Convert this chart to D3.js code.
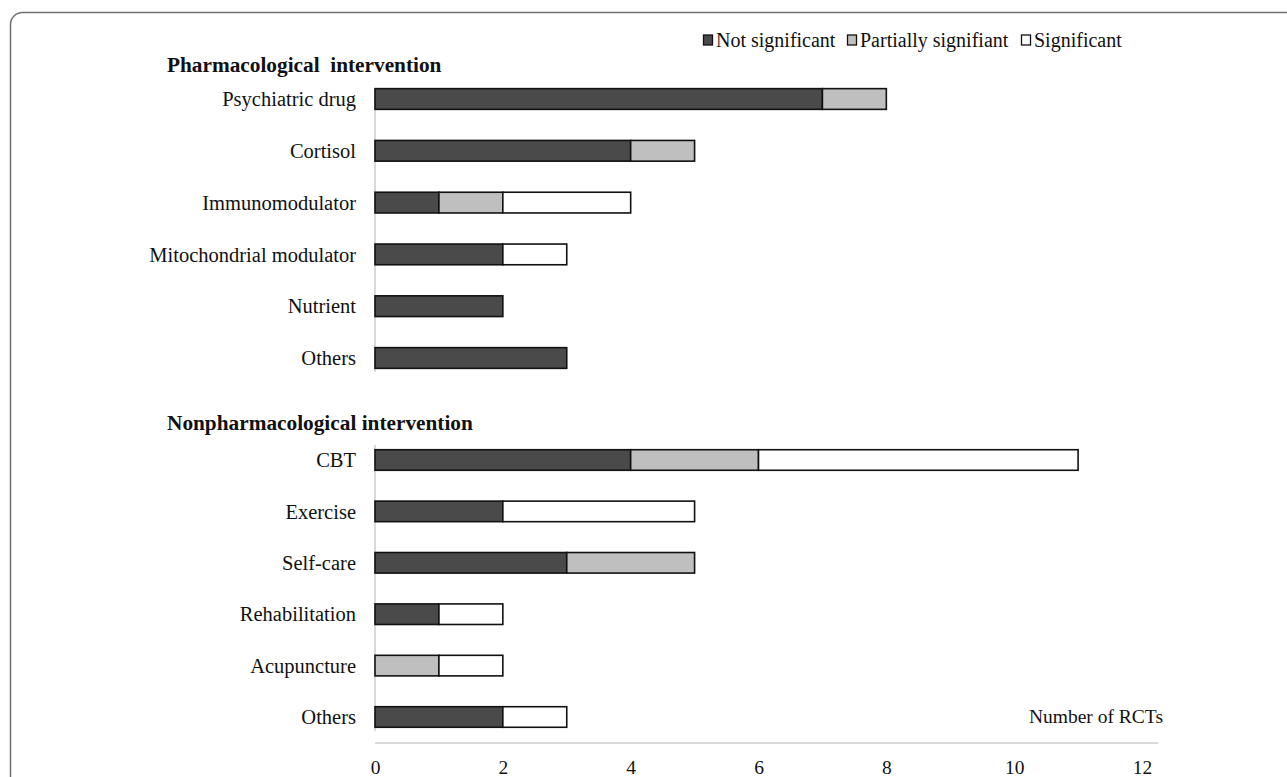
<!DOCTYPE html>
<html>
<head>
<meta charset="utf-8">
<script src="https://cdn.jsdelivr.net/npm/d3@7"></script>
<style>
  body { margin: 0; background: #fff; }
  text { font-family: "Liberation Serif", "Times New Roman", serif; }
</style>
</head>
<body>
<div id="container"></div>
<script>
/* DATA */
const series = ["Not significant", "Partially signifiant", "Significant"];
const pharmaCategories = ["Psychiatric drug", "Cortisol", "Immunomodulator", "Mitochondrial modulator", "Nutrient", "Others"];
const pharmaNotSig = [7, 4, 1, 2, 2, 3];
const pharmaPartial = [1, 1, 1, 0, 0, 0];
const pharmaSig = [0, 0, 2, 1, 0, 0];

const nonCategories = ["CBT", "Exercise", "Self-care", "Rehabilitation", "Acupuncture", "Others"];
const nonNotSig = [4, 2, 3, 1, 0, 2];
const nonPartial = [2, 0, 2, 0, 1, 0];
const nonSig = [5, 3, 0, 1, 1, 1];

const xTicks = [0, 2, 4, 6, 8, 10, 12];

/* CONSTANTS */
const width = 1287;
const height = 777;
const colors = ["#4a4a4a", "#bfbfbf", "#ffffff"];

const svg = d3.select("#container")
    .append("svg")
    .attr("width", width)
    .attr("height", height);

// frame (cut off on right and bottom)
svg.append("rect")
    .attr("x", 10.5).attr("y", 12.5)
    .attr("width", 1400).attr("height", 900)
    .attr("rx", 12)
    .attr("fill", "none")
    .attr("stroke", "#6e6e6e")
    .attr("stroke-width", 1.5);

const xScale = d3.scaleLinear()
    .domain([0, 12])
    .range([375, 1142]);

function panel(title, titleY, cats, a, b, c, range, lineTop) {
    const rows = cats.map((name, i) => ({ name, vals: [a[i], b[i], c[i]] }));
    const stack = d3.stack().keys([0, 1, 2]).value((d, k) => d.vals[k])(rows);

    const yScale = d3.scaleBand()
        .domain(d3.range(cats.length))
        .range(range)
        .paddingInner(0.6)
        .paddingOuter(0.3);

    svg.append("text")
        .attr("x", 167).attr("y", titleY)
        .attr("font-size", 21.3).attr("font-weight", "bold")
        .attr("fill", "#111")
        .style("white-space", "pre")
        .text(title);

    // vertical category axis line
    svg.append("line")
        .attr("x1", xScale(0)).attr("x2", xScale(0))
        .attr("y1", lineTop).attr("y2", range[1] - 12)
        .attr("stroke", "#d9d9d9").attr("stroke-width", 2);

    svg.append("g").selectAll("g")
        .data(stack)
        .join("g")
        .attr("fill", (d, i) => colors[i])
        .selectAll("rect")
        .data(d => d.map((v, i) => ({ v, i })).filter(e => e.v[1] > e.v[0]))
        .join("rect")
        .attr("x", e => xScale(e.v[0]))
        .attr("width", e => xScale(e.v[1]) - xScale(e.v[0]))
        .attr("y", e => yScale(e.i))
        .attr("height", yScale.bandwidth())
        .attr("stroke", "#111")
        .attr("stroke-width", 1.6);

    svg.append("g").selectAll("text")
        .data(cats)
        .join("text")
        .attr("x", 356)
        .attr("y", (d, i) => yScale(i) + yScale.bandwidth() / 2)
        .attr("dy", "0.35em")
        .attr("text-anchor", "end")
        .attr("font-size", 20.5)
        .attr("fill", "#111")
        .text(d => d);

    return yScale;
}

panel("Pharmacological  intervention", 72, pharmaCategories, pharmaNotSig, pharmaPartial, pharmaSig, [73.1, 383.9], 88);
panel("Nonpharmacological intervention", 430, nonCategories, nonNotSig, nonPartial, nonSig, [434.3, 742.7], 445);

// x axis
const xAxis = d3.axisBottom(xScale).tickValues(xTicks).tickSize(0).tickPadding(17);
const gx = svg.append("g")
    .attr("transform", "translate(0,743)")
    .call(xAxis);
gx.select(".domain").remove();
gx.selectAll("text")
    .attr("font-size", 19.5)
    .attr("fill", "#111")
    .style("font-family", "'Liberation Serif', serif");
gx.append("line")
    .attr("x1", xScale(0)).attr("x2", 1158)
    .attr("stroke", "#d9d9d9").attr("stroke-width", 2);

svg.append("text")
    .attr("x", 1163).attr("y", 723)
    .attr("text-anchor", "end")
    .attr("font-size", 19.5)
    .attr("fill", "#111")
    .text("Number of RCTs");

// legend
const legendX = [703, 847, 1021];
const lg = svg.append("g").selectAll("g")
    .data(series)
    .join("g")
    .attr("transform", (d, i) => `translate(${legendX[i]},47)`);
lg.append("rect")
    .attr("x", 0.5).attr("y", -12)
    .attr("width", 9).attr("height", 10)
    .attr("fill", (d, i) => colors[i])
    .attr("stroke", "#111").attr("stroke-width", 1.3);
lg.append("text")
    .attr("x", 13).attr("y", 0)
    .attr("font-size", 20)
    .attr("fill", "#111")
    .text(d => d);
</script>
</body>
</html>
